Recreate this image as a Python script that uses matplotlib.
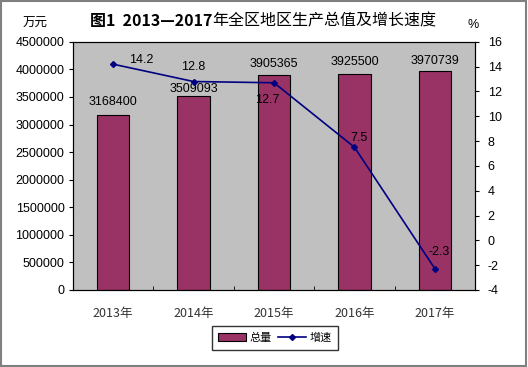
import matplotlib
matplotlib.use("Agg")
import matplotlib.pyplot as plt
from matplotlib.lines import Line2D
from matplotlib.patches import Patch, Rectangle

plt.rcParams['font.family'] = ['Noto Sans CJK SC', 'DejaVu Sans']

years = ["2013年", "2014年", "2015年", "2016年", "2017年"]
totals = [3168400, 3509093, 3905365, 3925500, 3970739]
growth = [14.2, 12.8, 12.7, 7.5, -2.3]

# label offsets in points (layout only)
bar_offsets = [(0, 5), (0, 1), (0, 3), (0, 4), (0, 3)]
line_offsets = [(20, -1), (0, 6.5), (-5, -16.5), (3, 2.5), (3, 8)]

NUM_FONT = ['Liberation Sans', 'DejaVu Sans']

fig = plt.figure(figsize=(5.28, 3.67), dpi=100)
fig.patch.set_facecolor("white")
fig.add_artist(Rectangle((0.002, 0.003), 0.995, 0.994, transform=fig.transFigure,
                         fill=False, edgecolor="#808080", linewidth=1.5))

ax = fig.add_axes([0.138, 0.210, 0.762, 0.676])
ax.set_facecolor("#C0C0C0")
x = list(range(len(years)))
ax.bar(x, totals, width=0.4, color="#993366", edgecolor="black", linewidth=0.8, zorder=2)
ax.set_xlim(-0.5, len(years) - 0.5)
ax.set_ylim(0, 4500000)
ax.set_yticks(range(0, 4500001, 500000))
ax.set_yticklabels([str(v) for v in range(0, 4500001, 500000)], fontsize=9, family=NUM_FONT)
ax.set_xticks([i + 0.5 for i in x[:-1]], minor=True)
ax.set_xticks(x)
ax.set_xticklabels(years, fontsize=9, color="#333333")
ax.tick_params(axis="x", which="major", length=0, pad=12)
ax.tick_params(axis="x", which="minor", length=3, direction="in")
ax.tick_params(axis="y", length=3, direction="out", pad=3)
for s in ax.spines.values():
    s.set_color("black")
    s.set_linewidth(0.8)

for i, v in enumerate(totals):
    ax.annotate(str(v), (i, v), xytext=bar_offsets[i], textcoords="offset points",
                ha="center", va="bottom", fontsize=9, family=NUM_FONT)

ax2 = ax.twinx()
ax2.plot(x, growth, color="#000080", marker="D", markersize=3, linewidth=1.2, zorder=3)
ax2.set_ylim(-4, 16)
ax2.set_yticks(range(-4, 17, 2))
ax2.set_yticklabels([str(v) for v in range(-4, 17, 2)], fontsize=9, family=NUM_FONT)
ax2.tick_params(axis="y", length=3, direction="out", pad=6)
for s in ax2.spines.values():
    s.set_color("black")
    s.set_linewidth(0.8)

for i, v in enumerate(growth):
    ax2.annotate(f"{v}", (i, v), xytext=line_offsets[i], textcoords="offset points",
                 ha="center", va="bottom", fontsize=9, family=NUM_FONT)

fig.text(0.066, 0.937, "万元", ha="center", va="center", fontsize=9)
fig.text(0.896, 0.932, "%", ha="center", va="center", fontsize=9, family=NUM_FONT)
fig.text(0.402, 0.942, "图1  2013—2017", ha="right", va="center",
         fontsize=11.5, fontweight="bold")
fig.text(0.402, 0.942, "年全区地区生产总值及增长速度", ha="left", va="center",
         fontsize=11.5)

handles = [Patch(facecolor="#993366", edgecolor="black", linewidth=0.8),
           Line2D([0], [0], color="#000080", marker="D", markersize=3, linewidth=1.2)]
fig.legend(handles, ["总量", "增速"], loc="center", bbox_to_anchor=(0.521, 0.079),
           ncol=2, fontsize=8, frameon=True, fancybox=False, edgecolor="black",
           handlelength=2.5, columnspacing=0.6, handletextpad=0.3, borderpad=0.6)

fig.savefig("out.png", dpi=100)
